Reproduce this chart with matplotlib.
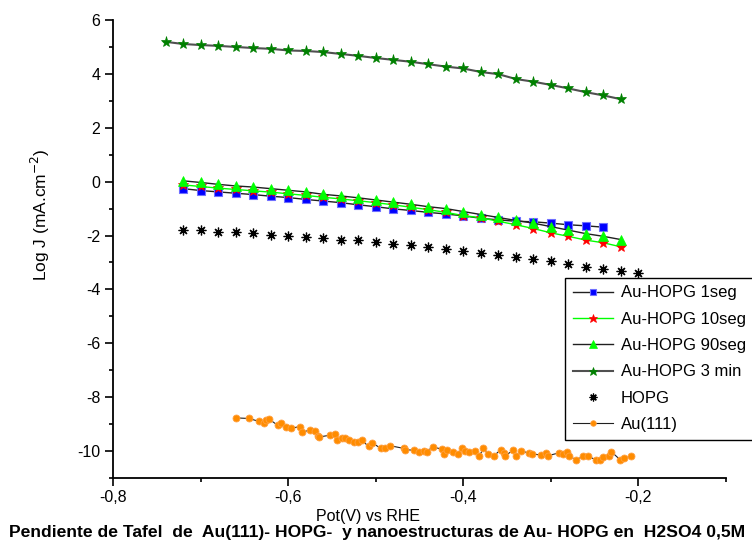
import numpy as np
import matplotlib
matplotlib.use("Agg")
import matplotlib.pyplot as plt
from matplotlib.ticker import MultipleLocator, FuncFormatter

plt.rcParams['font.family'] = ['Liberation Sans', 'DejaVu Sans']

# ---------------- data ----------------
pot_3min = np.round(np.arange(-0.74, -0.219, 0.02), 2)
j_3min = [5.19, 5.11, 5.07, 5.04, 5.00, 4.96, 4.93, 4.87, 4.85, 4.81, 4.74, 4.67, 4.59, 4.52,
          4.45, 4.36, 4.27, 4.20, 4.07, 3.99, 3.81, 3.71, 3.59, 3.46, 3.32, 3.20, 3.06]

pot_1seg = np.round(np.arange(-0.72, -0.239, 0.02), 2)
j_1seg = [-0.26, -0.33, -0.38, -0.43, -0.48, -0.54, -0.59, -0.66, -0.72, -0.78, -0.86, -0.93, -1.01, -1.07,
          -1.14, -1.20, -1.27, -1.36, -1.42, -1.47, -1.49, -1.54, -1.60, -1.64, -1.69]

pot_10seg = np.round(np.arange(-0.72, -0.219, 0.02), 2)
j_10seg = [-0.12, -0.18, -0.24, -0.29, -0.34, -0.39, -0.45, -0.51, -0.58, -0.64, -0.71, -0.78, -0.86, -0.95,
           -1.04, -1.14, -1.26, -1.34, -1.47, -1.60, -1.74, -1.90, -2.03, -2.17, -2.27, -2.42]

pot_90seg = np.round(np.arange(-0.72, -0.219, 0.02), 2)
j_90seg = [0.03, -0.03, -0.10, -0.16, -0.20, -0.26, -0.32, -0.38, -0.47, -0.53, -0.60, -0.68, -0.76, -0.84,
           -0.93, -1.00, -1.11, -1.22, -1.33, -1.44, -1.54, -1.67, -1.80, -1.93, -2.03, -2.15]

pot_hopg = np.round(np.arange(-0.72, -0.199, 0.02), 2)
j_hopg = [-1.80, -1.81, -1.86, -1.87, -1.92, -1.98, -2.03, -2.06, -2.10, -2.16, -2.18, -2.24, -2.31, -2.37,
          -2.43, -2.51, -2.57, -2.64, -2.72, -2.80, -2.88, -2.96, -3.06, -3.16, -3.26, -3.33, -3.38]

pot_au111 = [-0.659, -0.645, -0.633, -0.627, -0.625, -0.622, -0.612, -0.608, -0.603, -0.597,
             -0.587, -0.584, -0.575, -0.569, -0.566, -0.565, -0.552, -0.547, -0.544, -0.539,
             -0.535, -0.531, -0.525, -0.520, -0.516, -0.508, -0.504, -0.494, -0.489, -0.484,
             -0.468, -0.466, -0.456, -0.451, -0.445, -0.442, -0.435, -0.424, -0.422, -0.419,
             -0.412, -0.406, -0.401, -0.398, -0.394, -0.387, -0.382, -0.377, -0.372, -0.365,
             -0.357, -0.353, -0.352, -0.343, -0.340, -0.334, -0.325, -0.322, -0.311, -0.306,
             -0.303, -0.291, -0.286, -0.282, -0.279, -0.271, -0.263, -0.258, -0.248, -0.244,
             -0.240, -0.234, -0.231, -0.221, -0.217, -0.209]
j_au111 = [-8.77, -8.79, -8.90, -8.96, -8.86, -8.81, -9.04, -8.96, -9.11, -9.16,
           -9.09, -9.31, -9.21, -9.27, -9.43, -9.48, -9.41, -9.36, -9.58, -9.51,
           -9.53, -9.60, -9.68, -9.68, -9.60, -9.83, -9.70, -9.90, -9.90, -9.80,
           -9.90, -9.95, -9.97, -10.04, -10.00, -10.02, -9.85, -9.93, -10.10, -9.95,
           -10.02, -10.10, -9.88, -10.00, -10.02, -10.00, -10.20, -9.90, -10.10, -10.17,
           -9.95, -10.07, -10.17, -9.97, -10.17, -10.00, -10.07, -10.10, -10.15, -10.07,
           -10.17, -10.07, -10.10, -10.05, -10.20, -10.32, -10.20, -10.20, -10.32, -10.32,
           -10.22, -10.17, -10.02, -10.32, -10.27, -10.20]

labels = ["Au-HOPG 1seg", "Au-HOPG 10seg", "Au-HOPG 90seg", "Au-HOPG 3 min", "HOPG", "Au(111)"]
x_ticks = [-0.8, -0.6, -0.4, -0.2]
y_ticks = [6, 4, 2, 0, -2, -4, -6, -8, -10]

# ---------------- figure ----------------
W, H = 752, 547
fig = plt.figure(figsize=(W / 100, H / 100), dpi=100)
left, right, top, bottom = 113, 726, 20, 478
ax = fig.add_axes([left / W, 1 - bottom / H, (right - left) / W, (bottom - top) / H])

ax.plot(pot_1seg, j_1seg, '-', color='#202020', lw=1.0, marker='s', ms=5.5,
        mfc='#0000ff', mec='#6f6fff', mew=0.8, label=labels[0])
ax.plot(pot_10seg, j_10seg, '-', color='#00ff00', lw=1.0, marker='*', ms=8,
        mfc='#ff0000', mec='#ff0000', mew=0.5, label=labels[1])
ax.plot(pot_90seg, j_90seg, '-', color='#202020', lw=1.0, marker='^', ms=7,
        mfc='#00ff00', mec='#00ff00', mew=0.5, label=labels[2])
ax.plot(pot_3min, j_3min, '-', color='#505050', lw=1.5, marker='*', ms=8,
        mfc='#008000', mec='#008000', mew=0.5, label=labels[3])
ax.plot(pot_hopg, j_hopg, linestyle='none', marker=(8, 2, 0), ms=7,
        mec='black', mew=0.9, label=labels[4])
ax.plot(pot_au111, j_au111, '-', color='#202020', lw=0.8, marker='o', ms=5,
        mfc='#ff8c00', mec='#ffa040', mew=0.6, label=labels[5])

ax.set_xlim(-0.8, -0.1)
ax.set_ylim(-11, 6)
ax.set_xticks(x_ticks)
ax.set_yticks(y_ticks)
ax.xaxis.set_minor_locator(MultipleLocator(0.1))
ax.yaxis.set_minor_locator(MultipleLocator(1))
ax.xaxis.set_major_formatter(FuncFormatter(lambda v, p: f"{v:.1f}".replace('.', ',')))
ax.yaxis.set_major_formatter(FuncFormatter(lambda v, p: f"{int(round(v))}"))
ax.tick_params(which='major', direction='out', length=6, width=1.2, labelsize=11.5, pad=3)
ax.tick_params(which='minor', direction='out', length=3, width=1.2)
for s in ['top', 'right']:
    ax.spines[s].set_visible(False)
for s in ['left', 'bottom']:
    ax.spines[s].set_linewidth(1.3)

fig.text(368 / W, 1 - 516 / H, "Pot(V) vs RHE", ha='center', va='center', fontsize=11.5)
fig.text(40 / W, 1 - 215 / H, "Log J (mA.cm$^{-2}$)", ha='center', va='center',
         rotation=90, fontsize=12.5)
fig.text(377 / W, 1 - 533 / H,
         "Pendiente de Tafel  de  Au(111)- HOPG-  y nanoestructuras de Au- HOPG en  H2SO4 0,5M",
         ha='center', va='center', fontsize=12.6, fontweight='bold')

leg = ax.legend(loc='upper left', bbox_to_anchor=(565 / W, 1 - 278 / H),
                bbox_transform=fig.transFigure, fontsize=12, frameon=True, fancybox=False,
                edgecolor='black', framealpha=1, handlelength=2.4, handletextpad=0.5,
                labelspacing=0.68, borderpad=0.45, borderaxespad=0, markerscale=0.8)
leg.get_frame().set_linewidth(1.0)

fig.savefig("out.png", dpi=100)
